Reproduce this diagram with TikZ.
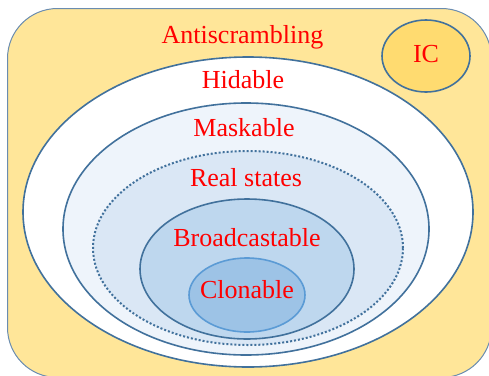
\documentclass[tikz,border=0pt]{standalone}
\usepackage{fontspec}
\setmainfont{Liberation Serif}
\usetikzlibrary{shapes.geometric,positioning}
\definecolor{setline}{HTML}{41719C}
\definecolor{boxline}{HTML}{6A8CB0}
\definecolor{bgyellow}{HTML}{FFE699}
\definecolor{icfill}{HTML}{FFDB70}
\definecolor{maskfill}{HTML}{EEF4FB}
\definecolor{realfill}{HTML}{DAE7F5}
\definecolor{broadfill}{HTML}{BED7EE}
\definecolor{clonefill}{HTML}{9DC3E6}
\definecolor{cloneline}{HTML}{5B9BD5}

\begin{document}
\begin{tikzpicture}[x=1pt,y=-1pt,
  set/.style={ellipse,draw=setline,line width=1.6pt,inner sep=0pt},
  lbl/.style={text=red,font=\fontsize{26}{30}\selectfont,inner sep=0pt,
    text height=18pt,text depth=5pt}]
  \useasboundingbox (0,0) rectangle (489,375);
  \clip (0,0) rectangle (489,375);
  % outer box and nested sets
  \node (all) [draw=boxline, line width=1pt, fill=bgyellow, rounded corners=50pt,
    minimum width=484pt, minimum height=369pt, anchor=north west] at (7,8) {};
  \node (hid)   [set, fill=white, minimum width=450pt, minimum height=310pt] at (248,212) {};
  \node (mask)  [set, fill=maskfill, minimum width=366pt, minimum height=252pt] at (246,229) {};
  \node (real)  [set, line width=2pt, dash pattern=on 2pt off 2pt, fill=realfill,
    minimum width=310pt, minimum height=194pt] at (248,248) {};
  \node (broad) [set, fill=broadfill, minimum width=214pt, minimum height=140pt] at (247,269) {};
  \node (clone) [set, draw=cloneline, fill=clonefill, minimum width=116pt, minimum height=74pt] at (247,295) {};
  \node (ic)    [set, fill=icfill, minimum width=88pt, minimum height=72pt, lbl] at (426,56) {IC};
  % labels
  \node (alltxt)   [lbl, below=17pt of all.north, xshift=-7pt] {Antiscrambling};
  \node (hidtxt)   [lbl, below=14pt of hid.north, xshift=-5pt] {Hidable};
  \node (masktxt)  [lbl, below=16pt of mask.north, xshift=-2pt] {Maskable};
  \node (realtxt)  [lbl, below=18pt of real.north, xshift=-2pt] {Real states};
  \node (broadtxt) [lbl, below=30pt of broad.north] {Broadcastable};
  \node (clonetxt) [lbl, below=23pt of clone.north] {Clonable};
\end{tikzpicture}
\end{document}
